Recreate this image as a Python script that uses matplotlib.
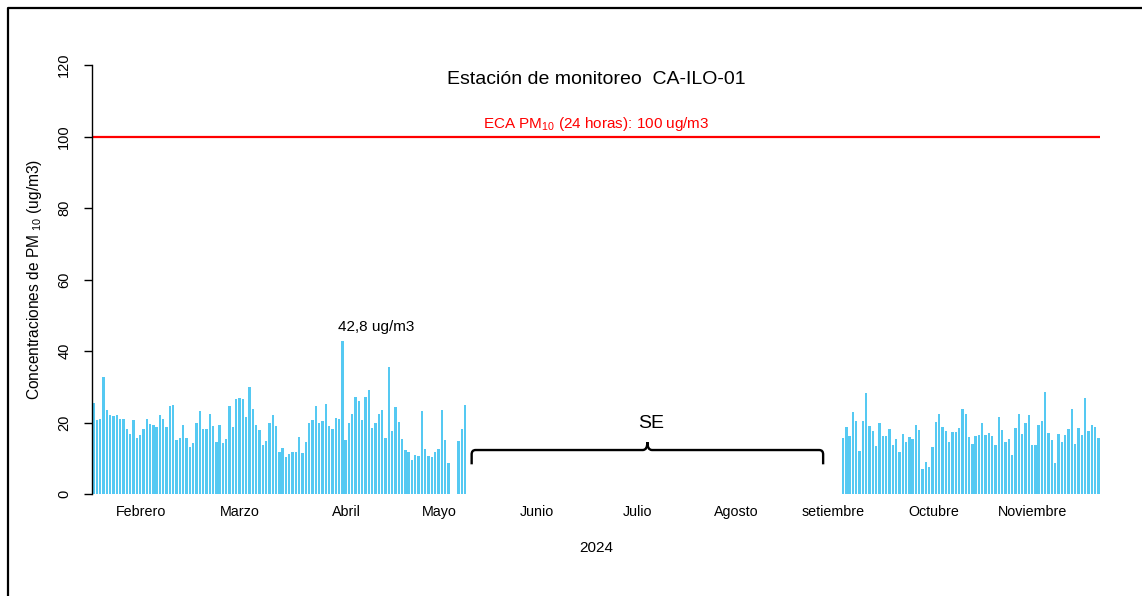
import numpy as np
import pandas as pd
import matplotlib
matplotlib.use("Agg")
import matplotlib.pyplot as plt
from matplotlib.path import Path
from matplotlib.patches import PathPatch
from matplotlib.lines import Line2D

plt.rcParams['font.family'] = ['Liberation Sans', 'DejaVu Sans']
plt.rcParams['mathtext.fontset'] = 'custom'
plt.rcParams['mathtext.rm'] = 'Liberation Sans'
plt.rcParams['mathtext.it'] = 'Liberation Sans'

# ---------------- data ----------------
start_date = "2024-02-01"
end_date = "2024-11-30"

# daily PM10 (ug/m3) 1 Feb - 23 May (None = no data)
feb_may_values = [
    25.5, 20.6, 21.0, 32.8, 23.5, 22.1, 21.8, 22.2, 21.1, 21.0,
    18.3, 16.9, 20.8, 15.6, 16.4, 18.2, 21.0, 19.7, 19.3, 18.7,
    22.1, 21.1, 18.7, 24.5, 25.0, 15.0, 15.6, 19.4, 15.6,
    13.1, 14.3, 19.9, 23.2, 18.2, 18.2, 22.5, 18.9, 14.6, 19.3,
    14.3, 15.4, 24.6, 18.7, 26.6, 26.8, 26.6, 21.4, 29.9, 23.7,
    19.3, 17.9, 13.7, 14.8, 19.9, 22.1, 19.0, 11.7, 13.0, 10.3, 11.1,
    11.7, 11.7, 16.0, 11.5, 14.6, 20.0, 20.6, 24.6, 19.8, 20.5,
    25.2, 19.0, 18.1, 21.3, 21.0, 42.8, 15.0, 20.0, 22.4, 27.1,
    26.0, 20.7, 27.2, 29.0, 18.5, 19.8, 22.4, 23.4, 15.6, 35.4,
    17.7, 24.4, 20.1, 15.3, 12.4, 11.7, 9.6, 10.9, 10.5, 23.1,
    12.6, 10.5, 10.3, 11.8, 12.7, 23.4, 15.1, 8.6, None, None,
    14.9, 18.2, 24.9,
]
# daily PM10 (ug/m3) 14 Sep - 30 Nov
sep_nov_start = "2024-09-14"
sep_nov_values = [
    15.8, 18.7, 16.2, 22.9, 20.3, 12.0, 20.4, 28.2, 19.0, 17.5,
    13.4, 19.9, 16.2, 16.2, 18.1, 13.8, 15.4, 11.7, 16.9, 14.6,
    15.9, 15.5, 19.3, 18.0, 7.1, 8.9, 7.6, 13.1, 20.2, 22.4,
    18.7, 17.5, 14.5, 17.3, 17.3, 18.5, 23.7, 22.5, 15.9,
    13.9, 16.2, 16.5, 19.8, 16.4, 17.1, 16.2, 13.7, 21.5, 17.9,
    14.5, 15.4, 10.9, 18.4, 22.4, 16.9, 19.9, 22.0, 13.6, 13.7,
    19.2, 20.5, 28.5, 17.2, 15.0, 8.7, 16.9, 14.5, 16.4, 18.3,
    23.9, 14.0, 18.6, 16.5, 26.9, 17.6, 19.2, 18.8, 15.7,
]

month_labels = ["Febrero", "Marzo", "Abril", "Mayo", "Junio", "Julio",
                "Agosto", "setiembre", "Octubre", "Noviembre"]
month_label_days = [15.3, 45.2, 77.2, 105.2, 134.7, 164.9, 194.8, 224.1, 254.5, 284.1]

eca_limit = 100
y_ticks = [0, 20, 40, 60, 80, 100, 120]

# ---------------- build series ----------------
dates = pd.date_range(start_date, end_date, freq="D")
series = pd.Series(np.nan, index=dates)
fm = pd.date_range(start_date, periods=len(feb_may_values), freq="D")
series.loc[fm] = [np.nan if v is None else v for v in feb_may_values]
sn = pd.date_range(sep_nov_start, periods=len(sep_nov_values), freq="D")
series.loc[sn] = sep_nov_values
day_idx = np.arange(1, len(series) + 1)
vals = series.values

# ---------------- figure ----------------
W, H = 1142, 596
fig = plt.figure(figsize=(W / 100, H / 100), dpi=100)
ax = fig.add_axes([92 / W, 1 - 494 / H, (1100 - 92) / W, (494 - 65) / H])

bar_color = "#55C9F2"
mask = ~np.isnan(vals)
ax.bar(day_idx[mask], vals[mask], width=0.72, color=bar_color, edgecolor="none")

ax.set_xlim(0.5, len(series) + 0.5)
ax.set_ylim(0, 120)
ax.axhline(eca_limit, color="#FF0000", lw=1.6)

for s in ["top", "right", "bottom"]:
    ax.spines[s].set_visible(False)
ax.spines["left"].set_bounds(0, 120)
ax.spines["left"].set_linewidth(1.0)
ax.set_yticks(y_ticks)
ax.set_yticklabels([str(t) for t in y_ticks], rotation=90, va="center", fontsize=10.5)
ax.tick_params(axis="y", length=6, width=1.0, pad=9)
ax.set_xticks(month_label_days)
ax.set_xticklabels(month_labels, fontsize=10.3)
ax.tick_params(axis="x", length=0, pad=8)

ax.set_ylabel(r"Concentraciones de PM $_{10}$ (ug/m3)", fontsize=11.2)
ax.yaxis.set_label_coords(-48 / (1100 - 92), (494 - 279) / (494 - 65))
ax.set_xlabel("2024", fontsize=11, labelpad=16)

# title
fig.text(596 / W, 1 - 79 / H, "Estación de monitoreo  CA-ILO-01",
         ha="center", va="center", fontsize=14)
# ECA label
ax.text(len(series) / 2 + 0.5, eca_limit + 1.0, r"ECA PM$_{10}$ (24 horas): 100 ug/m3",
        ha="center", va="bottom", color="#FF0000", fontsize=11)

# max annotation
imax = int(np.nanargmax(vals))
ax.text(day_idx[imax] - 1.3, vals[imax] + 2.0, "42,8 ug/m3", ha="left", va="bottom", fontsize=11)

# brace for "SE" (sin equipo) spanning the gap without data
last_fm = len(feb_may_values)
first_sn = int(day_idx[dates == pd.Timestamp(sep_nov_start)][0])
x0 = last_fm + 2.0
x1 = first_sn - 6.0
xm = (x0 + x1) / 2
yb, yh, yc = 8.3, 12.3, 14.5
verts = [(x0, yb), (x0, yh - 1.2), (x0, yh), (x0 + 1.2, yh),
         (xm - 1.4, yh), (xm, yh), (xm, yc),
         (xm, yh), (xm + 1.4, yh),
         (x1 - 1.2, yh), (x1, yh), (x1, yh - 1.2), (x1, yb)]
codes = [Path.MOVETO, Path.LINETO, Path.CURVE3, Path.CURVE3,
         Path.LINETO, Path.CURVE3, Path.CURVE3,
         Path.CURVE3, Path.CURVE3,
         Path.LINETO, Path.CURVE3, Path.CURVE3, Path.LINETO]
ax.add_patch(PathPatch(Path(verts, codes), fill=False, lw=1.7, color="black"))
ax.text(xm + 1.0, yc + 2.8, "SE", ha="center", va="bottom", fontsize=14)

# outer frame (left and top)
fig.add_artist(Line2D([8 / W, 8 / W, 1.0], [0.0, 1 - 8 / H, 1 - 8 / H],
                      transform=fig.transFigure, color="black", lw=1.6))

fig.savefig("out.png", dpi=100)
